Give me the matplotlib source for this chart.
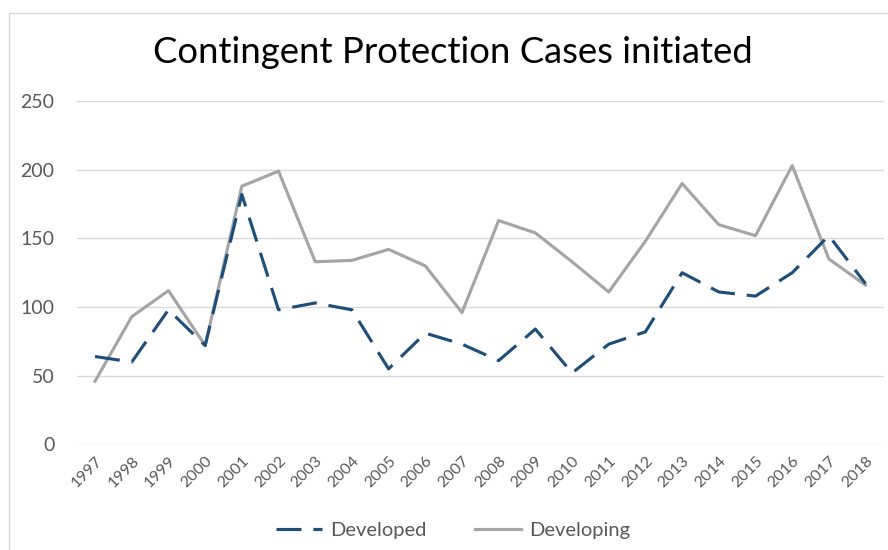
import matplotlib
matplotlib.use('Agg')
import matplotlib.pyplot as plt
from matplotlib.patches import Rectangle

plt.rcParams['font.family'] = ['Lato', 'DejaVu Sans']

years = list(range(1997, 2019))
developed = [64, 60, 98, 72, 182, 98, 103, 98, 55, 81, 73, 61, 84, 52,
             73, 82, 125, 111, 108, 125, 152, 117]
developing = [46, 93, 112, 72, 188, 199, 133, 134, 142, 130, 96, 163, 154, 133,
              111, 148, 190, 160, 152, 203, 135, 116]

fig = plt.figure(figsize=(8.88, 5.5), dpi=100)
# light chart border (Excel style)
fig.patches.append(Rectangle((8.5 / 888, -0.1), 1.2, 1 - 13 / 550 + 0.1,
                             transform=fig.transFigure, fill=False,
                             edgecolor='#d9d9d9', linewidth=1.0))

ax = fig.add_axes([0.0864, 0.192, 0.909, 0.6242])
ax.plot(years, developing, color='#a5a5a5', linewidth=2.25, label='Developing')
ax.plot(years, developed, color='#1f4e79', linewidth=2.25, dashes=(8, 3.8),
        label='Developed')

ax.set_xlim(1996.5, 2018.5)
ax.set_ylim(0, 250)
ax.set_yticks(range(0, 251, 50))
ax.set_xticks(years)
ax.set_xticklabels([str(y) for y in years], rotation=45, ha='right',
                   rotation_mode='anchor', fontsize=11.5, color='#595959')
ax.tick_params(axis='y', labelsize=14, colors='#595959', length=0, pad=16)
ax.tick_params(axis='x', length=0, pad=7)
ax.grid(axis='y', color='#d9d9d9', linewidth=1)
ax.set_axisbelow(True)
for s in ax.spines.values():
    s.set_visible(False)

fig.text(0.51, 0.905, 'Contingent Protection Cases initiated', ha='center',
         va='center', fontsize=26.3, color='#000000')

h, l = ax.get_legend_handles_labels()
fig.legend(h[::-1], l[::-1], loc='center', bbox_to_anchor=(0.51, 0.035), ncol=2,
           frameon=False, fontsize=14.5, handlelength=2.3, columnspacing=2.4,
           labelcolor='#595959', handletextpad=0.4)

fig.savefig('out.png', dpi=100, facecolor='white')
